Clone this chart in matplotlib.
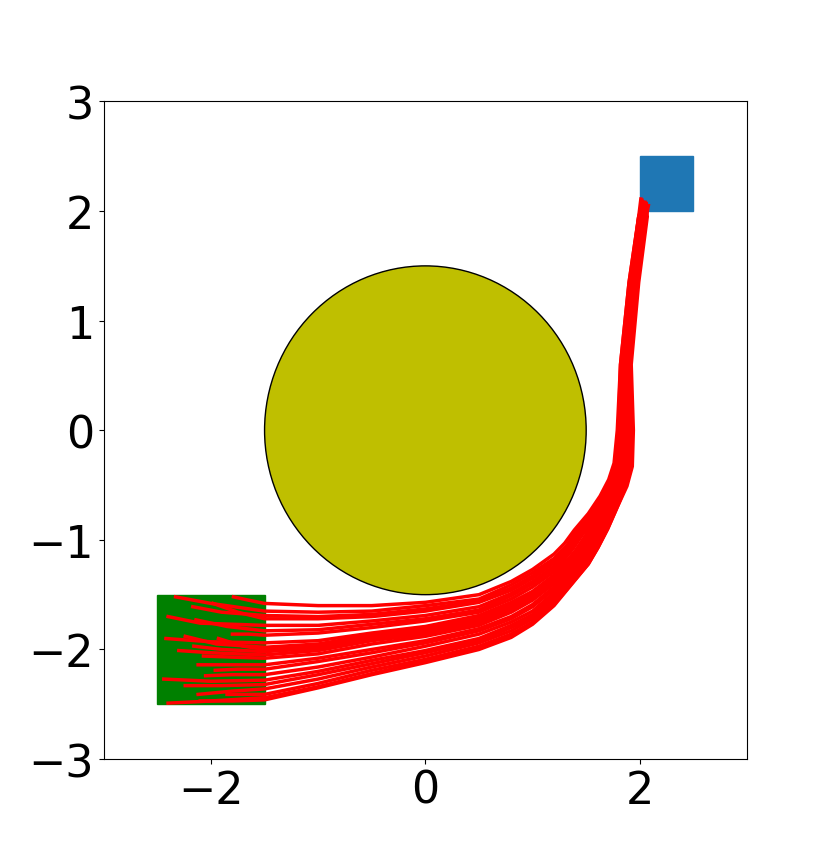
import matplotlib
matplotlib.use("Agg")
import matplotlib.pyplot as plt
from matplotlib.patches import Circle, Rectangle

# obstacle, start region, goal region
circle_center = (0.0, 0.0)
circle_radius = 1.5
start_box = (-2.5, -2.5, 1.0, 1.0)   # x, y, w, h
goal_box = (2.0, 2.0, 0.5, 0.5)

# trajectories: start point, wiggle point inside start box
start_x = [-1.79, -2.33, -2.17, -1.98, -2.40, -2.14, -1.80, -2.42, -2.24, -1.93, -2.16,
           -2.30, -2.07, -2.12, -1.96, -2.05, -2.44, -2.24, -2.12, -1.85, -2.40, -2.10]
start_y = [-1.52, -1.52, -1.61, -1.58, -1.70, -1.73, -1.86, -1.90, -1.88, -1.90, -1.97,
           -2.01, -2.06, -2.14, -2.19, -2.24, -2.27, -2.33, -2.41, -2.41, -2.49, -2.47]
mid_x = [-1.65, -2.00, -1.90, -1.75, -2.10, -1.85, -1.65, -2.00, -1.95, -1.70, -1.90,
         -2.00, -1.80, -1.90, -1.75, -1.80, -2.00, -1.90, -1.80, -1.70, -2.00, -1.80]
mid_y = [-1.55, -1.58, -1.66, -1.66, -1.76, -1.79, -1.86, -1.93, -1.95, -1.97, -2.00,
         -2.03, -2.07, -2.14, -2.18, -2.23, -2.29, -2.33, -2.38, -2.41, -2.47, -2.47]

# y of each trajectory at fixed x columns (lower part of the path)
x_cols = [-1.5, -1.0, -0.5, 0.0, 0.5, 0.8, 1.0, 1.2]
y_at_cols = [
    [-1.58, -1.60, -1.60, -1.57, -1.50, -1.38, -1.27, -1.13],
    [-1.65, -1.66, -1.65, -1.60, -1.54, -1.41, -1.30, -1.17],
    [-1.69, -1.70, -1.68, -1.63, -1.56, -1.44, -1.33, -1.19],
    [-1.72, -1.72, -1.70, -1.65, -1.57, -1.46, -1.35, -1.21],
    [-1.78, -1.78, -1.74, -1.69, -1.61, -1.49, -1.38, -1.24],
    [-1.83, -1.82, -1.77, -1.72, -1.64, -1.51, -1.40, -1.26],
    [-1.87, -1.85, -1.80, -1.74, -1.66, -1.54, -1.43, -1.29],
    [-1.94, -1.92, -1.85, -1.79, -1.69, -1.57, -1.47, -1.32],
    [-1.98, -1.95, -1.87, -1.81, -1.71, -1.59, -1.49, -1.34],
    [-2.00, -1.97, -1.89, -1.83, -1.73, -1.61, -1.50, -1.35],
    [-2.02, -1.99, -1.90, -1.84, -1.74, -1.62, -1.52, -1.36],
    [-2.05, -2.01, -1.92, -1.86, -1.76, -1.64, -1.53, -1.38],
    [-2.08, -2.04, -1.95, -1.88, -1.78, -1.66, -1.55, -1.40],
    [-2.14, -2.08, -2.00, -1.92, -1.81, -1.70, -1.59, -1.43],
    [-2.18, -2.11, -2.03, -1.94, -1.83, -1.72, -1.61, -1.45],
    [-2.23, -2.16, -2.07, -1.97, -1.86, -1.75, -1.65, -1.48],
    [-2.28, -2.20, -2.10, -2.01, -1.90, -1.78, -1.68, -1.51],
    [-2.32, -2.23, -2.13, -2.03, -1.92, -1.80, -1.70, -1.53],
    [-2.36, -2.27, -2.16, -2.06, -1.94, -1.83, -1.72, -1.56],
    [-2.41, -2.31, -2.19, -2.09, -1.97, -1.86, -1.75, -1.58],
    [-2.44, -2.34, -2.22, -2.11, -1.99, -1.88, -1.76, -1.59],
    [-2.46, -2.35, -2.23, -2.12, -2.00, -1.89, -1.77, -1.60],
]

# points through the bend around the obstacle
bend_x = [
    [1.30, 1.39, 1.52, 1.63, 1.71, 1.76],
    [1.32, 1.41, 1.53, 1.64, 1.72, 1.77],
    [1.33, 1.42, 1.54, 1.65, 1.73, 1.78],
    [1.34, 1.43, 1.55, 1.66, 1.74, 1.78],
    [1.35, 1.44, 1.56, 1.67, 1.75, 1.79],
    [1.36, 1.45, 1.57, 1.67, 1.76, 1.80],
    [1.37, 1.46, 1.58, 1.68, 1.76, 1.81],
    [1.39, 1.48, 1.59, 1.70, 1.78, 1.83],
    [1.40, 1.49, 1.60, 1.70, 1.78, 1.83],
    [1.41, 1.50, 1.61, 1.71, 1.79, 1.84],
    [1.41, 1.50, 1.61, 1.71, 1.79, 1.84],
    [1.42, 1.51, 1.62, 1.71, 1.80, 1.85],
    [1.43, 1.52, 1.62, 1.72, 1.80, 1.85],
    [1.44, 1.53, 1.64, 1.73, 1.82, 1.86],
    [1.45, 1.54, 1.64, 1.74, 1.82, 1.87],
    [1.46, 1.55, 1.65, 1.75, 1.83, 1.88],
    [1.48, 1.57, 1.66, 1.76, 1.84, 1.89],
    [1.48, 1.57, 1.67, 1.76, 1.85, 1.90],
    [1.50, 1.59, 1.68, 1.77, 1.86, 1.91],
    [1.51, 1.60, 1.69, 1.78, 1.87, 1.92],
    [1.52, 1.61, 1.70, 1.79, 1.87, 1.92],
    [1.52, 1.61, 1.70, 1.79, 1.88, 1.93],
]
bend_y = [
    [-1.03, -0.91, -0.76, -0.60, -0.45, -0.30],
    [-1.05, -0.92, -0.77, -0.61, -0.45, -0.30],
    [-1.05, -0.93, -0.78, -0.61, -0.46, -0.30],
    [-1.06, -0.94, -0.78, -0.62, -0.46, -0.30],
    [-1.07, -0.95, -0.79, -0.62, -0.46, -0.31],
    [-1.08, -0.95, -0.80, -0.63, -0.47, -0.31],
    [-1.09, -0.96, -0.81, -0.63, -0.47, -0.31],
    [-1.11, -0.98, -0.82, -0.64, -0.47, -0.31],
    [-1.12, -0.98, -0.82, -0.65, -0.48, -0.31],
    [-1.12, -0.99, -0.83, -0.65, -0.48, -0.31],
    [-1.13, -0.99, -0.83, -0.65, -0.48, -0.32],
    [-1.13, -0.99, -0.83, -0.65, -0.48, -0.32],
    [-1.14, -1.00, -0.84, -0.66, -0.48, -0.32],
    [-1.15, -1.01, -0.85, -0.66, -0.49, -0.32],
    [-1.16, -1.02, -0.86, -0.67, -0.49, -0.32],
    [-1.17, -1.03, -0.86, -0.67, -0.49, -0.32],
    [-1.18, -1.04, -0.87, -0.68, -0.50, -0.32],
    [-1.19, -1.04, -0.88, -0.68, -0.50, -0.33],
    [-1.20, -1.05, -0.88, -0.69, -0.50, -0.33],
    [-1.21, -1.06, -0.89, -0.69, -0.51, -0.33],
    [-1.22, -1.07, -0.90, -0.70, -0.51, -0.33],
    [-1.22, -1.07, -0.90, -0.70, -0.51, -0.33],
]

# x of each trajectory at fixed y rows (vertical part of the path)
y_rows = [0.0, 0.6, 1.35, 1.95]
x_at_rows = [
    [1.79, 1.82, 1.90, 1.99],
    [1.80, 1.82, 1.90, 1.99],
    [1.80, 1.83, 1.91, 1.99],
    [1.81, 1.83, 1.91, 2.00],
    [1.82, 1.84, 1.92, 2.00],
    [1.83, 1.84, 1.92, 2.01],
    [1.83, 1.85, 1.92, 2.01],
    [1.85, 1.86, 1.93, 2.02],
    [1.85, 1.86, 1.94, 2.02],
    [1.86, 1.86, 1.94, 2.02],
    [1.86, 1.87, 1.94, 2.03],
    [1.86, 1.87, 1.94, 2.03],
    [1.87, 1.87, 1.95, 2.03],
    [1.88, 1.88, 1.95, 2.04],
    [1.89, 1.88, 1.96, 2.04],
    [1.90, 1.89, 1.96, 2.04],
    [1.91, 1.90, 1.97, 2.05],
    [1.91, 1.90, 1.97, 2.05],
    [1.92, 1.90, 1.98, 2.06],
    [1.93, 1.91, 1.98, 2.06],
    [1.93, 1.91, 1.98, 2.06],
    [1.94, 1.92, 1.99, 2.07],
]
end_x = [2.01, 2.03, 2.05, 2.02, 2.04, 2.06, 2.03, 2.05, 2.07, 2.04, 2.02,
         2.06, 2.05, 2.03, 2.07, 2.04, 2.06, 2.05, 2.08, 2.06, 2.07, 2.05]
end_y = [2.11, 2.08, 2.06, 2.09, 2.07, 2.05, 2.08, 2.06, 2.04, 2.07, 2.10,
         2.05, 2.07, 2.08, 2.05, 2.06, 2.07, 2.04, 2.05, 2.06, 2.04, 2.08]

plt.rcParams['font.size'] = 32
fig = plt.figure(figsize=(8.3, 8.54), dpi=100)
ax = fig.add_subplot(111)

ax.add_patch(Rectangle(start_box[:2], start_box[2], start_box[3], color='g'))
ax.add_patch(Rectangle(goal_box[:2], goal_box[2], goal_box[3], color='C0'))
ax.add_patch(Circle(circle_center, circle_radius, facecolor='y', edgecolor='k', lw=1))

for i in range(len(start_x)):
    xs = [start_x[i], mid_x[i]] + x_cols + bend_x[i] + x_at_rows[i] + [end_x[i]]
    ys = [start_y[i], mid_y[i]] + y_at_cols[i] + bend_y[i] + y_rows + [end_y[i]]
    ax.plot(xs, ys, color='r', lw=2.5)

ax.set_xlim(-3, 3)
ax.set_ylim(-3, 3)
ax.set_xticks([-2, 0, 2])
ax.set_yticks([-3, -2, -1, 0, 1, 2, 3])

fig.savefig("out.png", dpi=100)
